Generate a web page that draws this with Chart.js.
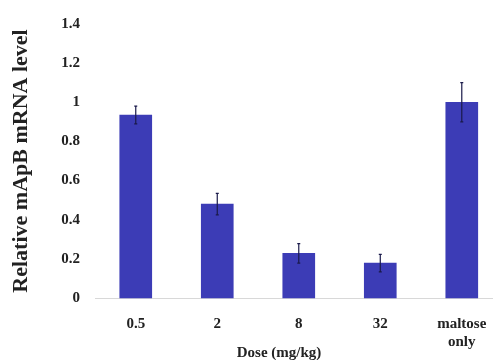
<!DOCTYPE html>
<html><head><meta charset="utf-8">
<script src="https://cdn.jsdelivr.net/npm/chart.js@4/dist/chart.umd.min.js"></script>
<style>html,body{margin:0;padding:0;background:#fff}#wrap{width:493px;height:360px}</style>
</head><body><div id="wrap"><canvas id="c"></canvas></div>
<script>
const categories = ["0.5", "2", "8", "32", ["maltose", "only"]];
const values = [0.935, 0.48, 0.228, 0.178, 1.0];
const errors = [0.045, 0.055, 0.05, 0.045, 0.1];
const yTicks = [0, 0.2, 0.4, 0.6, 0.8, 1, 1.2, 1.4];

const errorBars = {
  id: 'errorBars',
  afterDatasetsDraw(chart) {
    const ctx = chart.ctx, y = chart.scales.y;
    const meta = chart.getDatasetMeta(0);
    ctx.save();
    ctx.strokeStyle = '#1a1a4a';
    ctx.lineWidth = 1.2;
    meta.data.forEach((bar, i) => {
      const x = bar.x;
      const yt = y.getPixelForValue(values[i] + errors[i]);
      const yb = y.getPixelForValue(values[i] - errors[i]);
      ctx.beginPath();
      ctx.moveTo(x, yt); ctx.lineTo(x, yb);
      ctx.moveTo(x - 1.5, yt); ctx.lineTo(x + 1.5, yt);
      ctx.moveTo(x - 1.5, yb); ctx.lineTo(x + 1.5, yb);
      ctx.stroke();
    });
    ctx.restore();
  }
};

new Chart(document.getElementById('c'), {
  type: 'bar',
  data: {
    datasets: [{
      data: values.map((v, i) => ({x: i, y: v})),
      backgroundColor: '#3c3cb6',
      borderWidth: 0,
      barThickness: 32,
      clip: false
    }]
  },
  options: {
    responsive: true,
    maintainAspectRatio: false,
    animation: false,
    layout: {padding: {left: 0, right: 0, top: 13, bottom: 0}},
    plugins: {legend: {display: false}, tooltip: {enabled: false}},
    scales: {
      x: {
        type: 'linear',
        offset: false,
        min: -0.5,
        max: 4.383,
        afterBuildTicks(scale) { scale.ticks = categories.map((c, i) => ({value: i})); },
        afterFit(scale) { scale.height = 62; scale.paddingRight = 0; scale.paddingLeft = 0; },
        ticks: {
          autoSkip: false,
          maxRotation: 0,
          padding: 17,
          color: '#222',
          font: {family: 'Liberation Serif', weight: 'bold', size: 15, lineHeight: 1.2},
          callback: (v) => categories[v]
        },
        grid: {display: false, drawTicks: false},
        border: {display: true, color: '#d8d8d8', width: 1},
        title: {
          display: true,
          text: 'Dose (mg/kg)\u00a0\u00a0\u00a0\u00a0\u00a0\u00a0\u00a0\u00a0',
          color: '#222',
          font: {family: 'Liberation Serif', weight: 'bold', size: 15},
          padding: {top: 0, bottom: -2}
        }
      },
      y: {
        min: 0,
        max: 1.4,
        afterBuildTicks(scale) { scale.ticks = yTicks.map(v => ({value: v})); },
        afterFit(scale) { scale.width = 95; },
        ticks: {
          padding: 15,
          color: '#222',
          font: {family: 'Liberation Serif', weight: 'bold', size: 15},
          callback: (v) => String(v)
        },
        grid: {display: false, drawTicks: false},
        border: {display: false},
        title: {
          display: true,
          text: 'Relative mApB mRNA level',
          color: '#222',
          font: {family: 'Liberation Serif', weight: 'bold', size: 22},
          padding: {top: 8, bottom: 0}
        }
      }
    }
  },
  plugins: [errorBars]
});
</script></body></html>
